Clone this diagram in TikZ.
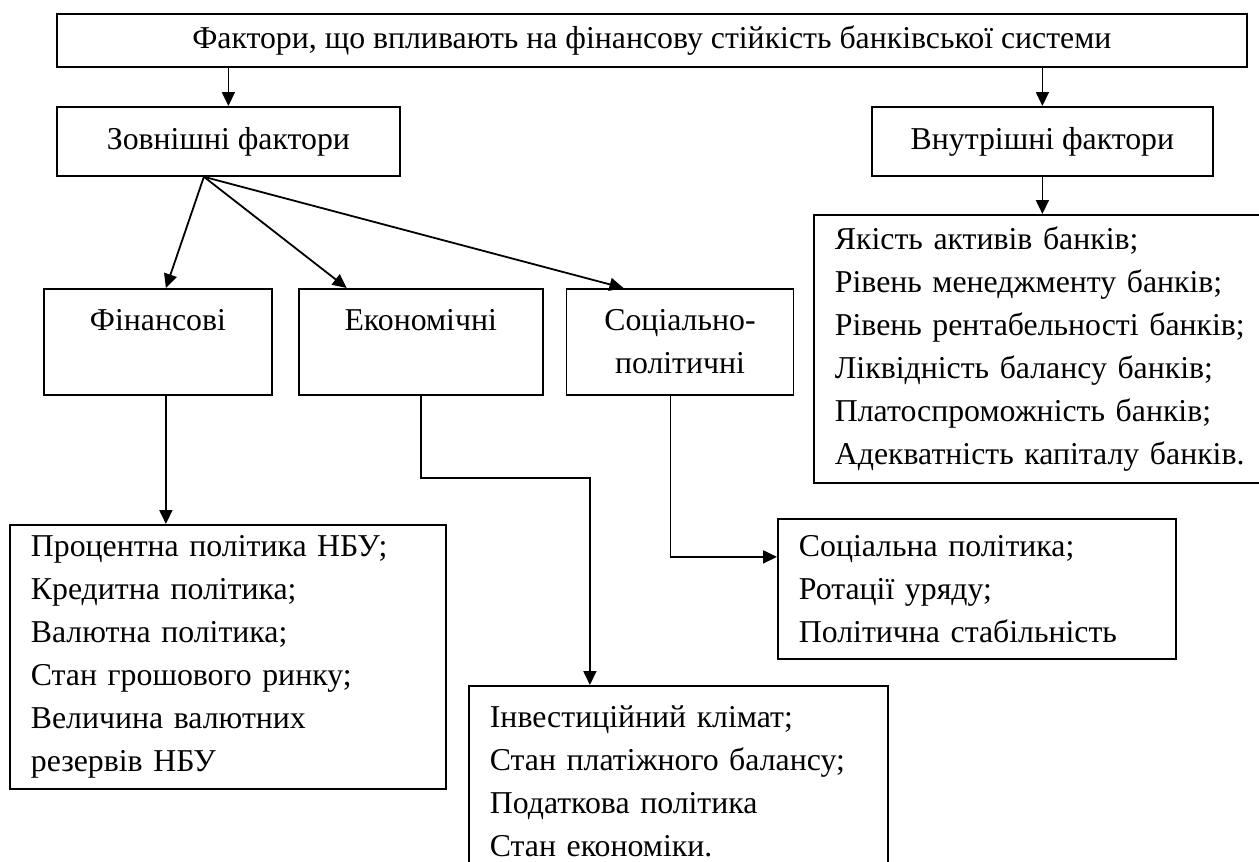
\documentclass[tikz,border=0pt]{standalone}
\usepackage{fontspec}
\setmainfont{Liberation Serif}
\usetikzlibrary{positioning,arrows.meta}
\tikzset{
  box/.style={rectangle, draw=black, line width=1.8pt, inner sep=0pt,
              font=\fontsize{31.8}{43}\selectfont, anchor=north west},
  headbox/.style={box, align=center},
  listbox/.style={box, align=left, inner xsep=21pt},
  arr/.style={-{Triangle[length=14pt,width=13pt]}, line width=1.8pt, draw=black},
}

\begin{document}
\begin{tikzpicture}[x=1pt, y=1pt]
    \useasboundingbox (0,0) rectangle (1259,-862);
    \node[headbox, minimum width=1190pt, minimum height=53pt] (root) at (56,-13)
      {Фактори, що впливають на фінансову стійкість банківської системи};
    \node[headbox, minimum width=343pt, minimum height=69pt] (ext) at (56,-106) {Зовнішні фактори};
    \node[headbox, minimum width=341pt, minimum height=69pt] (int) at (871,-106) {Внутрішні фактори};
    \node[listbox, text width=430pt, minimum height=268pt] (intlist) at (813,-214)
      {Якість активів банків;\\Рівень менеджменту банків;\\Рівень рентабельності банків;\\
       Ліквідність балансу банків;\\Платоспроможність банків;\\Адекватність капіталу банків.};
    \node[headbox, minimum width=228pt, minimum height=106pt] (fin) at (43,-288) {Фінансові\\\phantom{п}};
    \node[headbox, minimum width=244pt, minimum height=106pt, anchor=west, right=25pt of fin] (econ) {Економічні\\\phantom{п}};
    \node[headbox, minimum width=227pt, minimum height=106pt, anchor=west, right=22pt of econ] (soc) {Соціально-\\політичні};
    \node[listbox, text width=394pt, minimum height=264pt] (finlist) at (9,-524)
      {Процентна політика НБУ;\\Кредитна політика;\\Валютна політика;\\Стан грошового ринку;\\
       Величина валютних\\резервів НБУ};
    \node[listbox, text width=377pt, minimum height=190pt] (econlist) at (468,-685)
      {Інвестиційний клімат;\\Стан платіжного балансу;\\Податкова політика\\Стан економіки.};
    \node[listbox, text width=356pt, minimum height=140pt] (soclist) at (777,-518)
      {Соціальна політика;\\Ротації уряду;\\Політична стабільність};
    \draw[arr] (root.south -| ext.north) -- (ext.north);
    \draw[arr] (root.south -| int.north) -- (int.north);
    \draw[arr] (int.south) -- (int.south |- intlist.north);
    \draw[arr] ([xshift=-24.5pt]ext.south) -- ([xshift=8pt]fin.north);
    \draw[arr] ([xshift=-24.5pt]ext.south) -- ([xshift=-74pt]econ.north);
    \draw[arr] ([xshift=-24.5pt]ext.south) -- ([xshift=-56.5pt]soc.north);
    \draw[arr] ([xshift=8pt]fin.south) -- ([xshift=8pt]fin.south |- finlist.north);
    \draw[arr] (econ.south) -- ++(0pt,-82pt) -| ([xshift=-88.5pt]econlist.north);
    \draw[arr] ([xshift=-9.5pt]soc.south) |- ([yshift=32pt]soclist.west);
  \end{tikzpicture}
\end{document}
